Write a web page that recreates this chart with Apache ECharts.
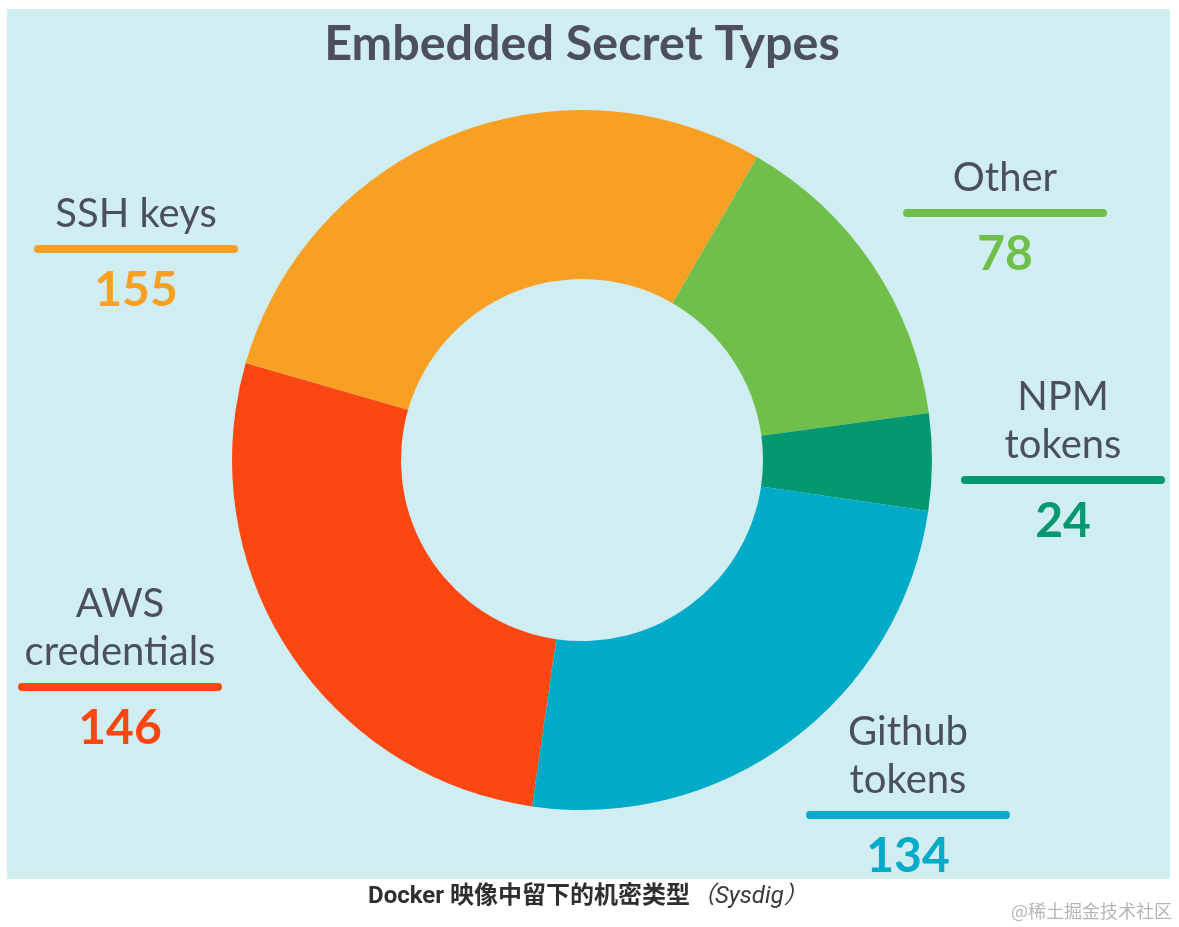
<!DOCTYPE html>
<html>
<head>
<meta charset="utf-8">
<title>Embedded Secret Types</title>
<script src="https://cdn.jsdelivr.net/npm/echarts@6/dist/echarts.min.js"></script>
<style>
  html, body { margin: 0; padding: 0; background: #ffffff; }
  #chart { width: 1179px; height: 927px; }
</style>
</head>
<body>
<div id="chart"></div>
<script>
// Secret categories, clockwise from the top-right
const categories = ['Other', 'NPM\ntokens', 'Github\ntokens', 'AWS\ncredentials', 'SSH keys'];
const counts = [78, 24, 134, 146, 155];
const colors = ['#70bf4b', '#039870', '#00abc7', '#fd4713', '#f7a024'];

// Where each callout sits: centre x and the y of its coloured bar
const calloutX = [1005, 1063, 908, 120, 136];
const calloutBarY = [213, 480, 815, 687, 249];

const TEXT_GREY = '#4b4f5b';
const PANEL = '#d0edf2';

const chart = echarts.init(document.getElementById('chart'), null, { renderer: 'canvas' });

const graphics = [
  {
    type: 'rect', z: 0, silent: true,
    shape: { x: 7, y: 9, width: 1163, height: 870 },
    style: { fill: PANEL }
  },
  {
    type: 'text', z: 5, silent: true, x: 582, y: 44,
    style: {
      text: 'Embedded Secret Types', fill: '#4e4f5d',
      fontFamily: 'Lato', fontWeight: 'bold', fontSize: 48.5,
      align: 'center', verticalAlign: 'middle'
    }
  },
  {
    type: 'text', z: 5, silent: true, x: 690, y: 897,
    style: {
      text: 'Docker 映像中留下的机密类型', fill: '#2f2f2f',
      fontFamily: 'Roboto, "Noto Sans CJK SC"', fontWeight: 'bold', fontSize: 24,
      align: 'right', verticalAlign: 'middle'
    }
  },
  {
    type: 'text', z: 5, silent: true, x: 691, y: 897,
    style: {
      text: '（Sysdig）', fill: '#3a3a3a',
      fontFamily: 'Roboto, "Noto Sans CJK SC"', fontStyle: 'italic', fontSize: 24,
      align: 'left', verticalAlign: 'middle'
    }
  },
  {
    type: 'text', z: 5, silent: true, x: 1172, y: 911,
    style: {
      text: '@稀土掘金技术社区', fill: '#b5b5b5',
      fontFamily: '"Noto Sans CJK SC"', fontSize: 18,
      align: 'right', verticalAlign: 'middle'
    }
  }
];

// Callouts: name above a rounded bar, count below it
categories.forEach(function (name, i) {
  const cx = calloutX[i];
  const by = calloutBarY[i];
  graphics.push({
    type: 'rect', z: 5, silent: true,
    shape: { x: cx - 102, y: by - 4, width: 204, height: 8, r: 4 },
    style: { fill: colors[i] }
  });
  graphics.push({
    type: 'text', z: 5, silent: true, x: cx, y: by - 11,
    style: {
      text: name, fill: TEXT_GREY,
      fontFamily: 'Lato', fontSize: 40, lineHeight: 48,
      align: 'center', verticalAlign: 'bottom'
    }
  });
  graphics.push({
    type: 'text', z: 5, silent: true, x: cx, y: by + 18,
    style: {
      text: String(counts[i]), fill: colors[i],
      fontFamily: 'Lato', fontWeight: 'bold', fontSize: 48,
      align: 'center', verticalAlign: 'top'
    }
  });
});

chart.setOption({
  backgroundColor: '#ffffff',
  animation: false,
  graphic: graphics,
  series: [{
    type: 'pie',
    z: 3,
    silent: true,
    center: [582, 460],
    radius: [181, 350],
    startAngle: 60,
    clockwise: true,
    label: { show: false },
    labelLine: { show: false },
    itemStyle: { borderWidth: 0 },
    data: categories.map(function (name, i) {
      return { name: name, value: counts[i], itemStyle: { color: colors[i] } };
    })
  }]
});
</script>
</body>
</html>
